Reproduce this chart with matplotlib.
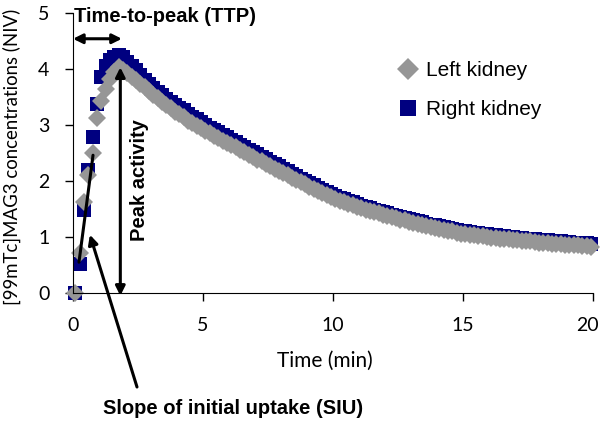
import numpy as np
import matplotlib
matplotlib.use("Agg")
from matplotlib import pyplot as plt
from matplotlib.transforms import ScaledTranslation

# renogram, one frame every 10 s, value plotted at frame midpoint
frame_sec = 10

left_kidney = [
    0, 0.71, 1.62, 2.10, 2.50, 3.12, 3.42, 3.65, 3.83, 3.95, 4.03, 3.98, 3.92,
    3.86, 3.80, 3.74, 3.67, 3.60, 3.53,
    3.48, 3.41, 3.36, 3.30, 3.24, 3.19,
    3.14, 3.08, 3.04, 2.98, 2.94, 2.89,
    2.85, 2.80, 2.77, 2.72, 2.68, 2.64,
    2.60, 2.55, 2.51, 2.47, 2.42, 2.38,
    2.35, 2.30, 2.26, 2.22, 2.18, 2.14,
    2.10, 2.06, 2.02, 1.98, 1.94, 1.90,
    1.86, 1.83, 1.78, 1.75, 1.71, 1.67,
    1.65, 1.62, 1.59, 1.57, 1.54, 1.51,
    1.49, 1.47, 1.44, 1.42, 1.40, 1.38,
    1.36, 1.34, 1.31, 1.30, 1.27, 1.25,
    1.23, 1.22, 1.19, 1.18, 1.16, 1.14,
    1.13, 1.11, 1.10, 1.08, 1.06, 1.05,
    1.04, 1.03, 1.02, 1.01, 1.00, 0.99,
    0.98, 0.97, 0.97, 0.96, 0.95, 0.94,
    0.93, 0.92, 0.92, 0.91, 0.90, 0.89,
    0.89, 0.88, 0.88, 0.87, 0.86, 0.86,
    0.85, 0.85, 0.84, 0.84, 0.83,
]

right_kidney = [
    0, 0.51, 1.49, 2.20, 2.78, 3.38, 3.85, 4.05, 4.16, 4.22, 4.25, 4.21, 4.12,
    4.06, 3.98, 3.89, 3.81, 3.73, 3.66,
    3.59, 3.53, 3.47, 3.41, 3.36, 3.31,
    3.26, 3.20, 3.15, 3.10, 3.05, 3.00,
    2.95, 2.91, 2.87, 2.82, 2.78, 2.74,
    2.69, 2.65, 2.61, 2.56, 2.52, 2.48,
    2.43, 2.39, 2.34, 2.30, 2.26, 2.22,
    2.17, 2.13, 2.09, 2.04, 2.00, 1.96,
    1.92, 1.88, 1.84, 1.81, 1.77, 1.73,
    1.70, 1.67, 1.64, 1.62, 1.59, 1.56,
    1.54, 1.51, 1.49, 1.47, 1.44, 1.43,
    1.40, 1.38, 1.36, 1.34, 1.32, 1.30,
    1.28, 1.26, 1.24, 1.22, 1.21, 1.19,
    1.17, 1.16, 1.14, 1.13, 1.11, 1.10,
    1.09, 1.08, 1.07, 1.06, 1.05, 1.04,
    1.03, 1.02, 1.01, 1.00, 1.00, 0.99,
    0.98, 0.97, 0.97, 0.96, 0.95, 0.95,
    0.94, 0.93, 0.93, 0.92, 0.91, 0.91,
    0.90, 0.90, 0.89, 0.89, 0.88,
]

time_min = (np.arange(len(left_kidney)) + 0.5) * frame_sec / 60.0

ttp = 1.82          # time of peak (min)
peak = 4.03         # peak activity of left kidney

plt.rcParams['font.family'] = ['Lato', 'DejaVu Sans']
bold = dict(family='Liberation Sans', fontweight='bold', fontsize=14.5)

fig = plt.figure(figsize=(6, 4.21), dpi=100)
ax = fig.add_axes([73/600, 1 - 293/421, 520/600, 280/421])

r, = ax.plot(time_min, right_kidney, 's', color='#000080', ms=10, mew=0,
             clip_on=False, label='Right kidney')
l, = ax.plot(time_min, left_kidney, 'D', color='#969696', ms=9.5, mew=0,
             clip_on=False, label='Left kidney')

ax.set_xlim(0, 20)
ax.set_ylim(0, 5)
ax.set_xticks([0, 5, 10, 15, 20])
ax.set_yticks([0, 1, 2, 3, 4, 5])
for s in ['top', 'right']:
    ax.spines[s].set_visible(False)
ax.tick_params(direction='out', length=6, width=1, labelsize=14, pad=11)
ax.set_xlabel('Time (min)', fontsize=15)
ax.xaxis.set_label_coords(0.485, -58/280)
ax.set_ylabel('[99mTc]MAG3 concentrations (NIV)', fontsize=13.4)
ax.yaxis.set_label_coords(-0.10, 0.485)

# last x tick label sits a bit left, as in the original
last = ax.get_xticklabels()[-1]
last.set_transform(last.get_transform() + ScaledTranslation(-6/100, 0, fig.dpi_scale_trans))

leg = ax.legend(handles=[l, r], loc='upper left', bbox_to_anchor=(0.585, 0.895),
                frameon=False, prop=dict(family='Liberation Sans', size=15),
                handletextpad=0.25, labelspacing=0.95, handlelength=1.2,
                markerscale=1.15)

# annotations
arr = dict(color='black', lw=2.2, shrinkA=0, shrinkB=0, mutation_scale=14)
ax.annotate('', xy=(0, 4.54), xytext=(1.88, 4.54),
            arrowprops=dict(arrowstyle='<|-|>', **arr), annotation_clip=False)
ax.text(3.54, 4.93, 'Time-to-peak (TTP)', ha='center', va='center', **bold)

ax.annotate('', xy=(ttp, peak), xytext=(ttp, -0.05),
            arrowprops=dict(arrowstyle='<|-|>', **arr), annotation_clip=False)
ax.text(2.54, 2.02, 'Peak activity', rotation=90, ha='center', va='center', **bold)

ax.annotate('', xy=(0.23, 0.55), xytext=(0.77, 2.46),
            arrowprops=dict(arrowstyle='-', **arr), annotation_clip=False)
ax.annotate('', xy=(0.65, 1.04), xytext=(137, 421 - 387), textcoords='figure pixels',
            arrowprops=dict(arrowstyle='-|>', **arr), annotation_clip=False)
fig.text(233/600, 1 - 408/421, 'Slope of initial uptake (SIU)', ha='center',
         va='center', **bold)

fig.savefig('out.png', dpi=100)
